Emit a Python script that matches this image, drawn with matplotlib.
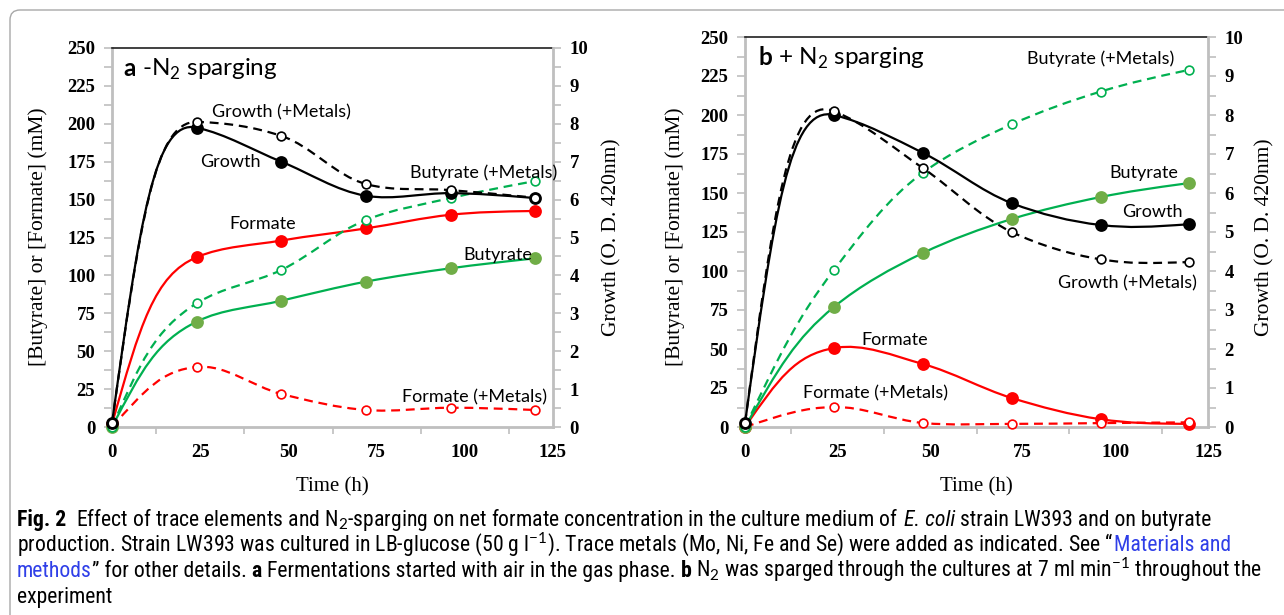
import matplotlib
matplotlib.use('Agg')
import matplotlib.pyplot as plt
import numpy as np
from matplotlib import font_manager
from matplotlib.path import Path
from matplotlib.patches import PathPatch, FancyBboxPatch
from matplotlib.transforms import IdentityTransform
from matplotlib.ticker import MultipleLocator, FixedLocator

# ---- data ----
hours = [0, 24, 48, 72, 96, 120]

a_formate      = [2, 112, 123, 131, 140, 142.5]
a_formate_met  = [0, 39.6, 21.8, 11.2, 12.7, 11.2]
a_butyrate     = [0, 69.5, 83.3, 95.9, 104.7, 111.3]
a_butyrate_met = [0, 81.6, 103.6, 136.6, 151, 162.3]
a_growth       = [0.1, 7.9, 7.0, 6.1, 6.17, 6.04]
a_growth_met   = [0.1, 8.05, 7.68, 6.41, 6.25, 6.05]

b_formate      = [0, 50.6, 40.4, 18.6, 5, 2]
b_formate_met  = [0, 12.8, 2.6, 2, 2.5, 3]
b_butyrate     = [0, 76.9, 111.5, 133.3, 147.4, 156.4]
b_butyrate_met = [0, 100.6, 163, 194, 215, 229]
b_growth       = [0.1, 8.0, 7.03, 5.74, 5.18, 5.2]
b_growth_met   = [0.1, 8.1, 6.64, 5.0, 4.3, 4.23]

W, H = 1284, 615
RED, GREEN, OLIVE = '#FF0000', '#00B050', '#70AD47'
SERIF = 'Liberation Serif'
LAB = 'Lato'

installed = {f.name for f in font_manager.fontManager.ttflist}
CAP = next((n for n in ['Liberation Sans Narrow', 'Roboto Condensed', 'Open Sans Condensed',
                        'Roboto', 'Liberation Sans'] if n in installed), 'DejaVu Sans')

plt.rcParams['mathtext.fontset'] = 'custom'
plt.rcParams['mathtext.rm'] = 'Lato'

fig = plt.figure(figsize=(W / 100, H / 100), dpi=100)
fig.patch.set_facecolor('white')


def smooth(ax, xs, ys, ylim, **kw):
    # Excel-like smoothed line through the points (cubic Bezier segments)
    x0, x1 = ax.get_xlim()
    y0, y1 = ylim
    bb = ax.get_position()
    pw, ph = bb.width * W, bb.height * H
    P = np.column_stack([(np.array(xs) - x0) / (x1 - x0) * pw,
                         (np.array(ys) - y0) / (y1 - y0) * ph])
    n = len(P)
    T = np.zeros_like(P)
    for i in range(1, n - 1):
        v1, v2 = P[i] - P[i - 1], P[i + 1] - P[i]
        d1, d2 = np.hypot(*v1), np.hypot(*v2)
        t = v1 / d1 * d2 ** 1.5 + v2 / d2 * d1 ** 1.5
        T[i] = t / np.hypot(*t)
    verts, codes = [P[0]], [Path.MOVETO]
    for i in range(n - 1):
        seg = P[i + 1] - P[i]
        d = np.hypot(*seg)
        c1 = c2 = None
        if i > 0:
            arm = min(d / 3, 0.5 * seg[0] / max(abs(T[i, 0]), 1e-9))
            c1 = P[i] + T[i] * arm
        if i + 1 < n - 1:
            arm = min(d / 3, 0.5 * seg[0] / max(abs(T[i + 1, 0]), 1e-9))
            c2 = P[i + 1] - T[i + 1] * arm
        if c1 is None:
            c1 = P[i] + (c2 - P[i]) * 2 / 3
        if c2 is None:
            c2 = P[i + 1] + (c1 - P[i + 1]) * 2 / 3
        verts += [c1, c2, P[i + 1]]
        codes += [Path.CURVE4] * 3
    V = np.array(verts)
    V[:, 0] = V[:, 0] / pw * (x1 - x0) + x0
    V[:, 1] = V[:, 1] / ph * (y1 - y0) + y0
    patch = PathPatch(Path(V, codes), fill=False, transform=ax.transData,
                      clip_on=False, capstyle='butt', **kw)
    ax.add_patch(patch)


def series(ax, ys, ylim, color, mfc, dashed):
    ls = (0, (4, 2.6)) if dashed else '-'
    smooth(ax, hours, ys, ylim, edgecolor=color, lw=1.6, linestyle=ls, zorder=2)
    ms = 6.3 if mfc == 'white' else 8
    ax.plot(hours, ys, ls='none', marker='o', ms=ms, mfc=mfc,
            mec=color if mfc == 'white' else mfc, mew=1.2, clip_on=False, zorder=3)


def runs(x, y, parts, size, family):
    # place text pieces one after another on a baseline (pixel coords from top-left)
    r = fig.canvas.get_renderer()
    probe = fig.text(0, 0, 'x x', fontsize=size, family=family)
    probe2 = fig.text(0, 0, 'xx', fontsize=size, family=family)
    space = probe.get_window_extent(r).width - probe2.get_window_extent(r).width
    probe.remove()
    probe2.remove()
    made = []
    for s, kw in parts:
        lead = len(s) - len(s.lstrip(' '))
        trail = len(s) - len(s.rstrip(' '))
        x += lead * space
        t = fig.text(x, H - y, s.strip(' '), fontsize=size, family=family,
                     va='baseline', ha='left', transform=IdentityTransform(), **kw)
        made.append(t)
        x += t.get_window_extent(r).width + trail * space
    return made, x


def panel(rect, data, labels, ylabel_x, ylabel2_x, title_parts, title_xy):
    ax = fig.add_axes(rect)
    ax.set_xlim(0, 125)
    ax.set_ylim(0, 250)
    ax2 = ax.twinx()
    ax2.set_ylim(0, 10)
    ax2.set_xlim(0, 125)
    for s in ['left', 'bottom']:
        ax.spines[s].set_color('#BFBFBF')
        ax.spines[s].set_linewidth(2)
    ax.spines['top'].set_color('#202020')
    ax.spines['top'].set_linewidth(1.2)
    ax.spines['right'].set_visible(False)
    for s in ['left', 'bottom', 'top']:
        ax2.spines[s].set_visible(False)
    ax2.spines['right'].set_color('#BFBFBF')
    ax2.spines['right'].set_linewidth(2)

    ax.yaxis.set_major_locator(MultipleLocator(25))
    ax.yaxis.set_minor_locator(MultipleLocator(12.5))
    ax2.yaxis.set_major_locator(MultipleLocator(1))
    ax2.yaxis.set_minor_locator(MultipleLocator(0.5))
    ax.xaxis.set_major_locator(MultipleLocator(25))
    ax.xaxis.set_minor_locator(FixedLocator([12.5, 37.5, 62.5, 87.5, 112.5]))
    ax.tick_params(axis='x', which='major', length=0, pad=12)
    ax.tick_params(axis='x', which='minor', length=5, color='#BFBFBF', width=1.2)
    ax.tick_params(axis='y', which='both', length=6, color='#BFBFBF', width=1.2, pad=6)
    ax2.tick_params(axis='y', which='both', length=6, color='#BFBFBF', width=1.2, pad=6)
    for lab in ax.get_xticklabels() + ax.get_yticklabels() + ax2.get_yticklabels():
        lab.set_fontfamily(SERIF)
        lab.set_fontweight('bold')
        lab.set_fontsize(13.5)

    (fm, fmm, bu, bum, gr, grm) = data
    series(ax, fm, (0, 250), RED, RED, False)
    series(ax, fmm, (0, 250), RED, 'white', True)
    series(ax, bu, (0, 250), GREEN, OLIVE, False)
    series(ax, bum, (0, 250), GREEN, 'white', True)
    series(ax2, gr, (0, 10), 'black', 'black', False)
    series(ax2, grm, (0, 10), 'black', 'white', True)

    for txt, x, y in labels:
        ax2.text(x, y / 25, txt, fontsize=13, family=LAB, ha='left', va='center', zorder=5)

    ax.set_xlabel('Time (h)', fontsize=15, family=SERIF, labelpad=12)
    fig.text(ylabel_x / W, 1 - 237 / H, '[Butyrate] or [Formate] (mM)', rotation=90,
             fontsize=15.5, family=SERIF, ha='center', va='center')
    fig.text(ylabel2_x / W, 1 - 237 / H, 'Growth (O. D. 420nm)', rotation=90,
             fontsize=15.5, family=SERIF, ha='center', va='center')
    runs(title_xy[0], title_xy[1], title_parts, 17.5, LAB)
    return ax


# border of the figure box
fig.add_artist(FancyBboxPatch((10, -30), 1320, 635, boxstyle='round,pad=0,rounding_size=10',
                              transform=IdentityTransform(), fill=False,
                              edgecolor='#A8A8A8', lw=1.0))

BOLD = {'fontweight': 'bold'}
PLAIN = {}

panel([112 / W, 1 - 427 / H, (553 - 112) / W, (427 - 48) / H],
      (a_formate, a_formate_met, a_butyrate, a_butyrate_met, a_growth, a_growth_met),
      [('Growth (+Metals)', 28.4, 207.8), ('Growth', 25, 175), ('Formate', 33.2, 134),
       ('Butyrate (+Metals)', 84.5, 168), ('Butyrate', 99.5, 113.5),
       ('Formate (+Metals)', 82.2, 19.8)],
      38, 612, [('a', BOLD), (' -N$_2$ sparging', PLAIN)], (123, 76))

panel([745 / W, 1 - 427 / H, (1208 - 745) / W, (427 - 37) / H],
      (b_formate, b_formate_met, b_butyrate, b_butyrate_met, b_growth, b_growth_met),
      [('Butyrate (+Metals)', 76.1, 236), ('Butyrate', 98.3, 162.8), ('Growth', 101.8, 137.8),
       ('Growth (+Metals)', 84.5, 92.3), ('Formate', 31.3, 55.8),
       ('Formate (+Metals)', 15.7, 21.8)],
      675, 1265, [('b', BOLD), (' + N$_2$ sparging', PLAIN)], (758, 65))

# caption
BLUE = {'color': '#2F3FE8'}
ITAL = {'fontstyle': 'italic'}
line1 = [('Fig. 2', BOLD),
         ('  Effect of trace elements and N$_2$-sparging on net formate concentration '
          'in the culture medium of ', PLAIN),
         ('E. coli', ITAL), (' strain LW393 and on butyrate', PLAIN)]
line2 = [('production. Strain LW393 was cultured in LB-glucose (50 g l$^{-1}$). '
          'Trace metals (Mo, Ni, Fe and Se) were added as indicated. See \u201c', PLAIN),
         ('Materials and', BLUE)]
line3 = [('methods', BLUE), ('\u201d for other details. ', PLAIN), ('a', BOLD),
         (' Fermentations started with air in the gas phase. ', PLAIN), ('b', BOLD),
         (' N$_2$ was sparged through the cultures at 7 ml min$^{-1}$ throughout the', PLAIN)]

# fit the caption size so that the first line ends where it does in the figure
trial, end = runs(17, 526, line1, 12, CAP)
for t in trial:
    t.remove()
cap_size = 12 * (1208 - 17) / (end - 17)
runs(17, 526, line1, cap_size, CAP)
runs(17, 551, line2, cap_size, CAP)
runs(17, 577, line3, cap_size, CAP)
runs(17, 603, [('experiment', PLAIN)], cap_size, CAP)

fig.savefig('out.png', dpi=100)
